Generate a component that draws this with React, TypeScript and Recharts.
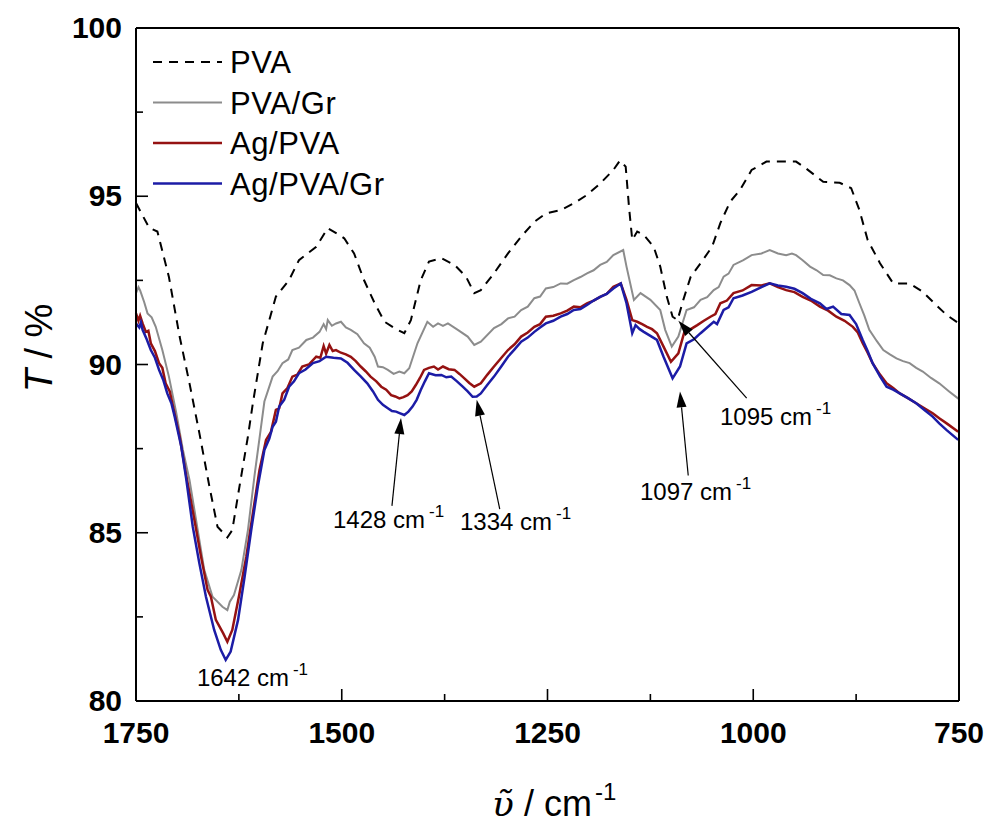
import React from 'react'
import { LineChart, Line, XAxis, YAxis, Legend, ReferenceLine, ReferenceDot } from 'recharts'

// wavenumber (cm-1), transmittance (%)
const pva: [number, number][] = [
  [1750, 94.8], [1734, 94.06], [1724, 93.95], [1710, 92.6], [1697, 90.83], [1685, 89.44],
  [1673, 87.96], [1661, 86.4], [1651, 85.18], [1639, 84.86], [1633, 85.08], [1625, 86.27],
  [1614, 87.86], [1608, 88.85], [1596, 90.63], [1580, 92.02], [1564, 92.51], [1552, 93.1],
  [1531, 93.5], [1517, 94.05], [1503, 93.85], [1497, 93.75], [1485, 93.3], [1473, 92.51],
  [1460, 91.82], [1448, 91.27], [1436, 91.08], [1424, 90.93], [1416, 91.32], [1404, 92.51],
  [1394, 93.06], [1379, 93.16], [1363, 92.96], [1349, 92.61], [1339, 92.12], [1331, 92.21],
  [1315, 92.71], [1298, 93.3], [1282, 93.8], [1266, 94.24], [1252, 94.49], [1234, 94.59],
  [1218, 94.79], [1202, 95.04], [1186, 95.38], [1170, 95.78], [1162, 96.06], [1155, 95.88],
  [1151, 94.69], [1147, 93.7], [1141, 93.95], [1133, 93.85], [1121, 93.5], [1113, 92.91],
  [1105, 92.01], [1098, 91.42], [1092, 91.32], [1085, 91.92], [1076, 92.61], [1064, 93.01],
  [1050, 93.5], [1040, 94.2], [1028, 94.84], [1016, 95.19], [1002, 95.78], [984, 96.03],
  [968, 96.03], [948, 96.03], [936, 95.83], [915, 95.43], [895, 95.4], [881, 95.24],
  [871, 94.59], [861, 93.7], [846, 93.01], [830, 92.41], [810, 92.41], [794, 92.16],
  [780, 91.82], [765, 91.47], [750, 91.22],
]

const pvaGr: [number, number][] = [
  [1750, 92.12], [1747, 92.3], [1745, 92.2], [1740, 91.85], [1736, 91.52], [1731, 91.4],
  [1726, 91.12], [1718, 90.43], [1710, 89.64], [1701, 88.55], [1693, 87.46], [1685, 86.57],
  [1675, 85.08], [1667, 83.89], [1657, 83.1], [1645, 82.8], [1639, 82.7], [1636, 82.95],
  [1631, 83.15], [1622, 83.89], [1614, 85.08], [1606, 86.7], [1600, 87.8], [1594, 88.9],
  [1584, 89.64], [1578, 89.8], [1572, 90.04], [1565, 90.15], [1560, 90.43], [1552, 90.5],
  [1543, 90.73], [1535, 90.8], [1527, 90.97], [1522, 91.2], [1519, 91.05], [1517, 91.32],
  [1512, 91.15], [1507, 91.22], [1501, 91.27], [1495, 91.1], [1489, 91.03], [1481, 90.9],
  [1473, 90.63], [1466, 90.5], [1460, 90.23], [1456, 89.94], [1450, 89.92], [1444, 89.84],
  [1437, 89.72], [1430, 89.79], [1424, 89.74], [1418, 89.89], [1408, 90.63], [1396, 91.27],
  [1389, 91.12], [1383, 91.22], [1377, 91.15], [1371, 91.22], [1359, 91.03], [1347, 90.83],
  [1339, 90.58], [1331, 90.68], [1315, 91.08], [1306, 91.2], [1298, 91.37], [1290, 91.42],
  [1282, 91.62], [1274, 91.72], [1266, 91.97], [1259, 92.02], [1252, 92.26], [1243, 92.3],
  [1234, 92.41], [1226, 92.4], [1218, 92.51], [1210, 92.6], [1202, 92.71], [1194, 92.8],
  [1186, 92.96], [1178, 93.05], [1170, 93.25], [1158, 93.4], [1154, 92.91], [1145, 91.92],
  [1137, 92.12], [1125, 91.92], [1113, 91.62], [1107, 91.03], [1099, 90.53], [1091, 90.83],
  [1081, 91.62], [1072, 91.7], [1064, 91.92], [1056, 92.0], [1048, 92.21], [1042, 92.3],
  [1036, 92.61], [1030, 92.7], [1024, 92.96], [1012, 93.1], [1002, 93.25], [990, 93.3],
  [980, 93.4], [970, 93.3], [960, 93.25], [953, 93.3], [948, 93.25], [940, 93.1],
  [931, 92.91], [923, 92.8], [915, 92.66], [907, 92.65], [899, 92.56], [891, 92.5],
  [883, 92.36], [877, 92.2], [871, 91.82], [865, 91.45], [859, 91.03], [850, 90.7],
  [842, 90.43], [834, 90.3], [826, 90.18], [818, 90.1], [810, 90.04], [802, 89.9],
  [794, 89.79], [784, 89.6], [774, 89.44], [762, 89.2], [750, 88.97],
]

const agPva: [number, number][] = [
  [1750, 91.52], [1747, 91.3], [1745, 91.45], [1742, 91.22], [1738, 90.97], [1735, 91.0],
  [1732, 90.63], [1727, 90.4], [1722, 90.04], [1718, 89.9], [1714, 89.44], [1709, 89.2],
  [1705, 88.75], [1697, 87.86], [1689, 86.7], [1679, 85.38], [1671, 84.29], [1663, 83.3],
  [1659, 83.1], [1653, 82.41], [1644, 82.01], [1639, 81.76], [1633, 82.11], [1625, 83.1],
  [1616, 84.29], [1608, 85.58], [1600, 86.86], [1592, 87.76], [1586, 88.0], [1580, 88.65],
  [1576, 88.7], [1572, 89.14], [1566, 89.3], [1560, 89.64], [1554, 89.7], [1548, 89.94],
  [1540, 90.0], [1531, 90.23], [1526, 90.2], [1522, 90.55], [1519, 90.32], [1515, 90.58],
  [1511, 90.4], [1507, 90.43], [1501, 90.35], [1495, 90.3], [1489, 90.23], [1483, 90.1],
  [1477, 89.94], [1471, 89.8], [1465, 89.64], [1458, 89.5], [1452, 89.34], [1446, 89.25],
  [1440, 89.09], [1435, 89.05], [1430, 88.99], [1425, 89.03], [1420, 89.09], [1415, 89.2],
  [1410, 89.39], [1405, 89.6], [1400, 89.84], [1394, 89.9], [1388, 89.94], [1383, 89.85],
  [1377, 89.94], [1370, 89.86], [1363, 89.84], [1357, 89.72], [1351, 89.59], [1345, 89.45],
  [1339, 89.34], [1331, 89.44], [1323, 89.7], [1315, 89.94], [1306, 90.2], [1298, 90.43],
  [1290, 90.6], [1282, 90.83], [1274, 90.95], [1266, 91.12], [1259, 91.2], [1252, 91.42],
  [1243, 91.45], [1234, 91.52], [1226, 91.6], [1218, 91.72], [1210, 91.7], [1202, 91.82],
  [1194, 91.9], [1186, 92.01], [1178, 92.1], [1170, 92.31], [1161, 92.41], [1154, 91.92],
  [1147, 91.32], [1141, 91.27], [1135, 91.2], [1129, 91.12], [1123, 91.05], [1117, 90.93],
  [1109, 90.53], [1100, 90.08], [1091, 90.33], [1083, 91.03], [1076, 91.05], [1068, 91.17],
  [1060, 91.3], [1052, 91.42], [1046, 91.5], [1040, 91.82], [1032, 91.9], [1024, 92.12],
  [1013, 92.2], [1002, 92.36], [990, 92.35], [980, 92.41], [970, 92.3], [960, 92.21],
  [950, 92.15], [940, 92.01], [930, 91.9], [919, 91.72], [909, 91.6], [899, 91.42],
  [889, 91.3], [879, 91.12], [873, 90.95], [867, 90.63], [861, 90.35], [855, 90.04],
  [846, 89.7], [838, 89.44], [830, 89.3], [822, 89.14], [812, 89.0], [802, 88.85],
  [792, 88.7], [782, 88.55], [774, 88.4], [765, 88.25], [751, 88.0],
]

const agPvaGr: [number, number][] = [
  [1750, 91.22], [1746, 91.1], [1744, 91.25], [1742, 91.03], [1737, 90.75], [1732, 90.43],
  [1727, 90.2], [1722, 89.84], [1717, 89.55], [1712, 89.14], [1707, 88.85], [1703, 88.45],
  [1695, 87.56], [1689, 86.6], [1681, 85.18], [1673, 84.09], [1665, 83.1], [1655, 82.11],
  [1647, 81.52], [1641, 81.22], [1635, 81.47], [1626, 82.41], [1618, 83.7], [1610, 85.08],
  [1602, 86.37], [1594, 87.46], [1588, 87.8], [1584, 88.15], [1580, 88.3], [1576, 88.75],
  [1570, 88.95], [1564, 89.34], [1558, 89.5], [1552, 89.74], [1544, 89.85], [1535, 90.04],
  [1527, 90.1], [1519, 90.23], [1510, 90.2], [1501, 90.18], [1493, 90.05], [1485, 89.84],
  [1477, 89.65], [1469, 89.44], [1462, 89.2], [1456, 88.95], [1450, 88.8], [1444, 88.7],
  [1439, 88.62], [1434, 88.6], [1429, 88.55], [1424, 88.5], [1419, 88.6], [1414, 88.75],
  [1409, 88.95], [1404, 89.24], [1399, 89.5], [1394, 89.74], [1386, 89.68], [1379, 89.69],
  [1373, 89.62], [1367, 89.64], [1360, 89.5], [1353, 89.34], [1347, 89.2], [1341, 89.04],
  [1336, 89.05], [1331, 89.14], [1323, 89.4], [1315, 89.64], [1306, 89.95], [1298, 90.23],
  [1290, 90.45], [1282, 90.68], [1274, 90.8], [1266, 90.97], [1259, 91.1], [1252, 91.22],
  [1243, 91.3], [1234, 91.42], [1226, 91.5], [1218, 91.62], [1210, 91.65], [1202, 91.77],
  [1194, 91.9], [1186, 92.01], [1178, 92.1], [1170, 92.26], [1161, 92.41], [1154, 91.82],
  [1147, 90.93], [1143, 91.17], [1138, 91.05], [1133, 90.97], [1125, 90.85], [1117, 90.73],
  [1109, 90.23], [1098, 89.59], [1089, 89.94], [1081, 90.63], [1072, 90.75], [1064, 90.93],
  [1056, 91.1], [1048, 91.27], [1044, 91.2], [1036, 91.62], [1030, 91.7], [1024, 91.97],
  [1013, 92.05], [1002, 92.16], [990, 92.3], [980, 92.41], [970, 92.35], [960, 92.31],
  [950, 92.25], [940, 92.12], [930, 91.95], [919, 91.82], [911, 91.65], [903, 91.72],
  [893, 91.5], [883, 91.47], [875, 91.2], [867, 90.73], [861, 90.4], [855, 90.04],
  [846, 89.65], [838, 89.34], [830, 89.25], [822, 89.14], [812, 89.0], [802, 88.85],
  [792, 88.65], [782, 88.45], [774, 88.25], [765, 88.05], [751, 87.76],
]

const xTicks = [1750, 1625, 1500, 1375, 1250, 1125, 1000, 875, 750]
const yTicks = [80, 82.5, 85, 87.5, 90, 92.5, 95, 97.5, 100]

// arrow tail -> tip, in data units
const arrows = [
  { tail: [1439, 85.8], tip: [1428, 88.41] },
  { tail: [1308, 85.7], tip: [1336, 88.95] },
  { tail: [1079, 86.7], tip: [1089, 89.2] },
  { tail: [1008, 89.0], tip: [1091, 91.3] },
]
const peakLabels = [
  { text: '1642 cm', x: 1676, y: 80.45 },
  { text: '1428 cm', x: 1510.6, y: 85.14 },
  { text: '1334 cm', x: 1356.3, y: 85.08 },
  { text: '1097 cm', x: 1137.6, y: 85.97 },
  { text: '1095 cm', x: 1040.4, y: 88.2 },
]

const SERIES = [
  { name: 'PVA', points: pva, color: '#000000', width: 2, dash: '9 7' },
  { name: 'PVA/Gr', points: pvaGr, color: '#8c8c8c', width: 2 },
  { name: 'Ag/PVA', points: agPva, color: '#951212', width: 2.5 },
  { name: 'Ag/PVA/Gr', points: agPvaGr, color: '#1c1ca6', width: 2.5 },
]

const FONT = '"Liberation Sans", Arial, Helvetica, sans-serif'
const MAJOR = 12
const MINOR = 7

function BottomTick({ x, y, payload }: any) {
  const major = payload.value % 250 === 0
  return (
    <g>
      <line x1={x} y1={y} x2={x} y2={y - (major ? MAJOR : MINOR)} stroke="#000" strokeWidth={1.6} />
      {major && (
        <text x={x} y={y + 42} textAnchor="middle" fontFamily={FONT} fontWeight="bold" fontSize={30} fill="#000">
          {payload.value}
        </text>
      )}
    </g>
  )
}

function TopTick({ x, y, payload }: any) {
  const major = payload.value % 250 === 0
  return <line x1={x} y1={y} x2={x} y2={y + (major ? MAJOR : MINOR)} stroke="#000" strokeWidth={1.6} />
}

function LeftTick({ x, y, payload }: any) {
  const major = payload.value % 5 === 0
  return (
    <g>
      <line x1={x} y1={y} x2={x + (major ? MAJOR : MINOR)} y2={y} stroke="#000" strokeWidth={1.6} />
      {major && (
        <text x={x - 14} y={y + 10} textAnchor="end" fontFamily={FONT} fontWeight="bold" fontSize={30} fill="#000">
          {payload.value}
        </text>
      )}
    </g>
  )
}

function RightTick({ x, y, payload }: any) {
  const major = payload.value % 5 === 0
  return <line x1={x} y1={y} x2={x - (major ? MAJOR : MINOR)} y2={y} stroke="#000" strokeWidth={1.6} />
}

function Arrow({ x1, y1, x2, y2 }: any) {
  const a = Math.atan2(y2 - y1, x2 - x1)
  const L = 16
  const W = 5
  const bx = x2 - L * Math.cos(a)
  const by = y2 - L * Math.sin(a)
  const pts = `${x2},${y2} ${bx - W * Math.sin(a)},${by + W * Math.cos(a)} ${bx + W * Math.sin(a)},${by - W * Math.cos(a)}`
  return (
    <g>
      <line x1={x1} y1={y1} x2={bx} y2={by} stroke="#000" strokeWidth={1.2} />
      <polygon points={pts} fill="#000" />
    </g>
  )
}

function PeakText({ cx, cy, text }: any) {
  return (
    <text x={cx} y={cy} fontFamily={FONT} fontSize={24} fill="#000">
      {text}
      <tspan dx={4} dy={-11} fontSize={17}>-1</tspan>
    </text>
  )
}

function LegendBox() {
  return (
    <svg width={330} height={170}>
      {SERIES.map((s, i) => {
        const y = 22 + i * 40.5
        return (
          <g key={s.name}>
            <line x1={8} y1={y} x2={77} y2={y} stroke={s.color} strokeWidth={s.width} strokeDasharray={s.dash} />
            <text x={85} y={y + 11} fontFamily={FONT} fontSize={31} letterSpacing={0.6} fill="#000">{s.name}</text>
          </g>
        )
      })}
    </svg>
  )
}

export default function App() {
  return (
    <div style={{ position: 'absolute', left: 0, top: 0, width: 988, height: 825, background: '#fff' }}>
      <LineChart width={988} height={825} margin={{ top: 27, right: 28, bottom: 84, left: 76 }}>
        <XAxis
          dataKey="x" type="number" domain={[750, 1750]} reversed ticks={xTicks} interval={0}
          height={40} tickSize={0} tickMargin={0} tickLine={false} tick={BottomTick}
          axisLine={{ stroke: '#000', strokeWidth: 2 }}
          label={{
            content: () => (
              <text x={492} y={816} fontFamily={FONT} fontSize={36} fill="#000">
                <tspan fontFamily='"DejaVu Serif", "Liberation Serif", serif' fontStyle="italic">{'\u1fe6'}</tspan>
                <tspan>{'  / cm'}</tspan>
                <tspan dx={3} dy={-16} fontSize={24}>-1</tspan>
              </text>
            ),
          }}
        />
        <XAxis
          xAxisId="top" orientation="top" type="number" domain={[750, 1750]} reversed ticks={xTicks} interval={0}
          height={1} tickSize={0} tickMargin={0} tickLine={false} tick={TopTick}
          axisLine={{ stroke: '#000', strokeWidth: 2 }}
        />
        <YAxis
          type="number" domain={[80, 100]} ticks={yTicks} interval={0}
          width={60} tickSize={0} tickMargin={0} tickLine={false} tick={LeftTick}
          axisLine={{ stroke: '#000', strokeWidth: 2 }}
          label={{
            content: () => (
              <text x={52} y={348} transform="rotate(-90 52 348)" textAnchor="middle" fontFamily={FONT} fontSize={38} fill="#000">
                <tspan fontStyle="italic">T</tspan>
                <tspan>{' / %'}</tspan>
              </text>
            ),
          }}
        />
        <YAxis
          yAxisId="right" orientation="right" type="number" domain={[80, 100]} ticks={yTicks} interval={0}
          width={1} tickSize={0} tickMargin={0} tickLine={false} tick={RightTick}
          axisLine={{ stroke: '#000', strokeWidth: 2 }}
        />
        <Legend
          layout="vertical" align="center" verticalAlign="middle"
          wrapperStyle={{ position: 'absolute', left: 145, top: 40, width: 330, height: 170 }}
          content={() => <LegendBox />}
        />
        {SERIES.map(s => (
          <Line
            key={s.name}
            name={s.name}
            data={s.points.map(([x, y]) => ({ x, y }))}
            dataKey="y"
            type="linear"
            stroke={s.color}
            strokeWidth={s.width}
            strokeDasharray={s.dash}
            dot={false}
            activeDot={false}
            isAnimationActive={false}
          />
        ))}
        {arrows.map((a, i) => (
          <ReferenceLine
            key={'arr' + i}
            segment={[{ x: a.tail[0], y: a.tail[1] }, { x: a.tip[0], y: a.tip[1] }]}
            shape={(p: any) => <Arrow {...p} />}
          />
        ))}
        {peakLabels.map(l => (
          <ReferenceDot
            key={l.text + l.x}
            x={l.x}
            y={l.y}
            r={0}
            shape={(p: any) => <PeakText cx={p.cx} cy={p.cy} text={l.text} />}
          />
        ))}
      </LineChart>
    </div>
  )
}
